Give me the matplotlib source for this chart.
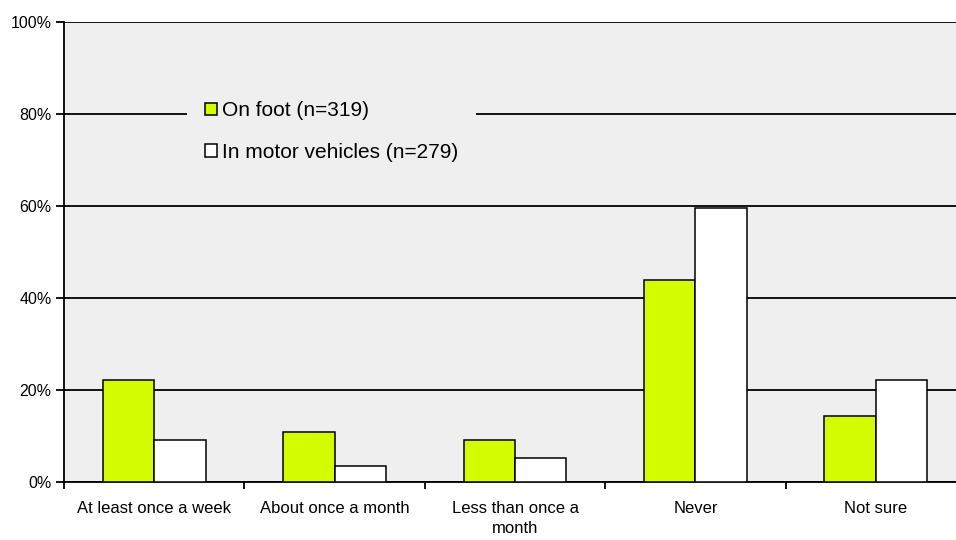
import matplotlib
matplotlib.use("Agg")
import matplotlib.pyplot as plt
import numpy as np

categories = ["At least once a week", "About once a month", "Less than once a\nmonth", "Never", "Not sure"]
on_foot = [22.2, 10.9, 9.1, 43.9, 14.3]
motor = [9.1, 3.5, 5.2, 59.6, 22.2]
series_labels = ["On foot (n=319)", "In motor vehicles (n=279)"]
y_ticks = [0, 20, 40, 60, 80, 100]

GREEN = "#d4fc00"
BG = "#efefef"

plt.rcParams["font.family"] = ["Liberation Sans", "DejaVu Sans"]

fig = plt.figure(figsize=(9.56, 5.4), dpi=100)
ax = fig.add_axes([64 / 956, 1 - 482 / 540, 902 / 956, 460 / 540])
ax.set_facecolor(BG)

x = np.arange(len(categories))
w = 0.285
ax.bar(x - w / 2, on_foot, w, color=GREEN, edgecolor="black", linewidth=1.1, label=series_labels[0], zorder=3)
ax.bar(x + w / 2, motor, w, color="white", edgecolor="black", linewidth=1.1, label=series_labels[1], zorder=3)

ax.set_xlim(-0.5, len(categories) - 0.5)
ax.set_ylim(0, 100)
ax.set_yticks(y_ticks)
ax.set_yticklabels([f"{v}%" for v in y_ticks])
ax.yaxis.grid(True, color="black", linewidth=1.3, zorder=1)
ax.set_axisbelow(True)

ax.set_xticks(x)
ax.set_xticklabels(categories, fontsize=12, linespacing=1.4)
ax.set_xticks(np.arange(len(categories) + 1) - 0.5, minor=True)
ax.tick_params(axis="x", which="major", length=0, pad=14)
ax.tick_params(axis="x", which="minor", length=5, width=1.3, direction="out")
ax.tick_params(axis="y", length=6, width=1.3, direction="out", labelsize=11.5, pad=3)

for side in ["top", "right"]:
    ax.spines[side].set_visible(False)
ax.spines["left"].set_linewidth(1.3)
ax.spines["bottom"].set_linewidth(1.3)

leg = ax.legend(loc="upper left", bbox_to_anchor=(0.1364, 0.866), frameon=True,
                facecolor=BG, edgecolor="none", framealpha=1, fancybox=False,
                fontsize=15, handlelength=0.57, handleheight=0.57, handletextpad=0.25,
                labelspacing=1.1, borderpad=0.85, borderaxespad=0)
leg.set_zorder(5)

fig.savefig("out.png", dpi=100)
